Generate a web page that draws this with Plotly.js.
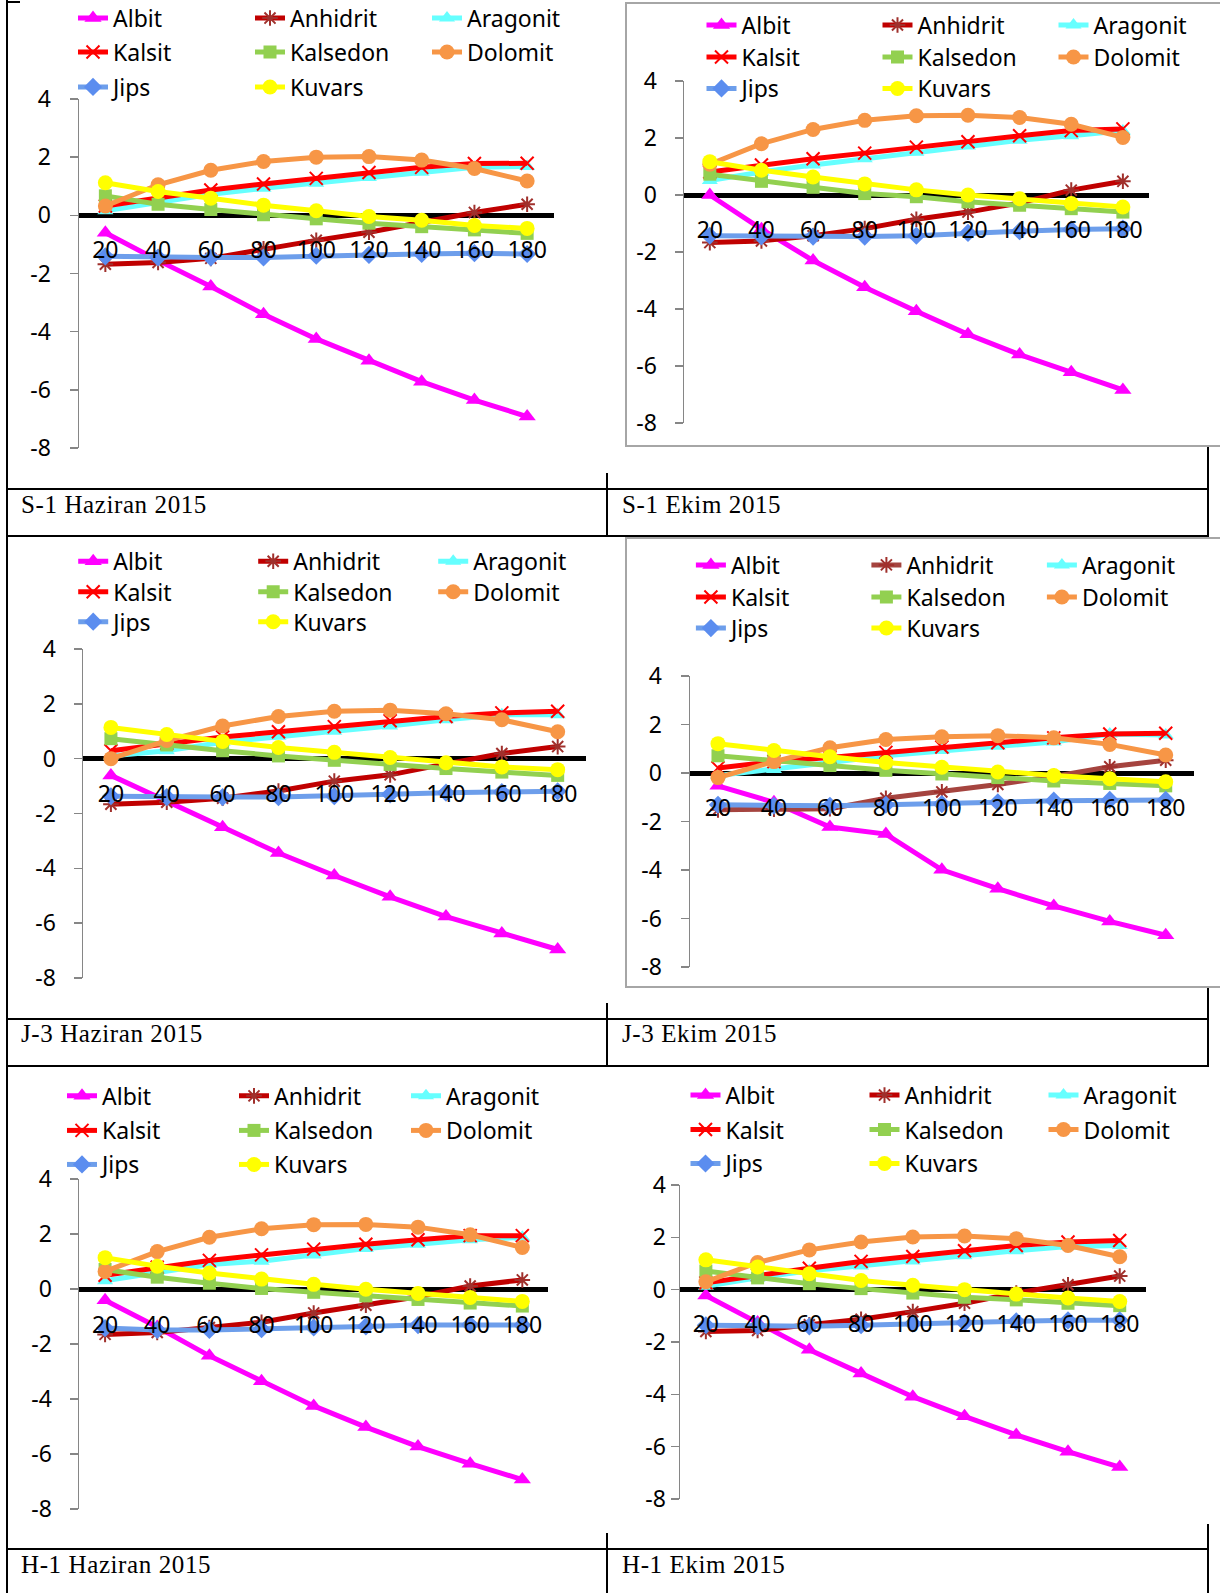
<!DOCTYPE html>
<html>
<head>
<meta charset="utf-8">
<script src="https://cdn.plot.ly/plotly-3.0.1.min.js"></script>
<style>
html,body{margin:0;padding:0;background:#fff;}
body{width:1220px;height:1593px;overflow:hidden;position:relative;}
.ln{position:absolute;background:#000;}
.cap{position:absolute;font-family:'Liberation Serif','Times New Roman',serif;font-size:25px;line-height:25px;letter-spacing:0.6px;color:#000;white-space:nowrap;z-index:5;}
.plot{position:absolute;}
.frame{position:absolute;border:2px solid #A6A6A6;border-right:none;background:#fff;overflow:hidden;z-index:3;}
</style>
</head>
<body>
<div id="stage"></div>
<script>
// ---------------- DATA ----------------
const temperatures = [20, 40, 60, 80, 100, 120, 140, 160, 180];
const minerals = ['Albit', 'Anhidrit', 'Aragonit', 'Kalsit', 'Kalsedon', 'Dolomit', 'Jips', 'Kuvars'];
const yTicks = [-8, -6, -4, -2, 0, 2, 4];
const yTickText = ['-8', '-6', '-4', '-2', '0', '2', '4'];
const captions = ['S-1 Haziran 2015', 'S-1 Ekim 2015', 'J-3 Haziran 2015', 'J-3 Ekim 2015', 'H-1 Haziran 2015', 'H-1 Ekim 2015'];

// rows follow the order of `minerals`
const s1Haziran = [
  [-0.6, -1.55, -2.45, -3.4, -4.25, -5.0, -5.72, -6.35, -6.92],
  [-1.68, -1.62, -1.48, -1.15, -0.86, -0.58, -0.22, 0.1, 0.38],
  [0.16, 0.44, 0.72, 0.93, 1.1, 1.3, 1.48, 1.65, 1.68],
  [0.32, 0.58, 0.87, 1.08, 1.27, 1.47, 1.65, 1.78, 1.79],
  [0.67, 0.38, 0.2, 0.02, -0.12, -0.27, -0.39, -0.5, -0.62],
  [0.32, 1.05, 1.55, 1.85, 2.0, 2.02, 1.9, 1.61, 1.18],
  [-1.41, -1.45, -1.45, -1.45, -1.39, -1.36, -1.33, -1.3, -1.33],
  [1.12, 0.82, 0.59, 0.35, 0.16, -0.04, -0.17, -0.35, -0.45]
];
const s1Ekim = [
  [0.0, -1.2, -2.3, -3.24, -4.08, -4.89, -5.6, -6.22, -6.84],
  [-1.67, -1.61, -1.43, -1.18, -0.85, -0.6, -0.28, 0.17, 0.48],
  [0.51, 0.81, 1.05, 1.27, 1.5, 1.72, 1.92, 2.08, 2.25],
  [0.81, 1.05, 1.27, 1.47, 1.68, 1.87, 2.08, 2.26, 2.32],
  [0.73, 0.48, 0.27, 0.05, -0.06, -0.24, -0.36, -0.48, -0.6],
  [1.08, 1.8, 2.3, 2.62, 2.78, 2.8, 2.72, 2.48, 2.02],
  [-1.43, -1.45, -1.46, -1.46, -1.43, -1.33, -1.27, -1.21, -1.18],
  [1.17, 0.87, 0.63, 0.39, 0.18, 0.0, -0.13, -0.3, -0.42]
];
const j3Haziran = [
  [-0.61, -1.55, -2.5, -3.44, -4.26, -5.04, -5.76, -6.38, -6.96],
  [-1.66, -1.59, -1.44, -1.18, -0.82, -0.59, -0.19, 0.19, 0.44],
  [0.1, 0.29, 0.6, 0.82, 1.0, 1.19, 1.42, 1.6, 1.6],
  [0.29, 0.56, 0.79, 0.98, 1.17, 1.38, 1.54, 1.67, 1.73],
  [0.73, 0.5, 0.29, 0.1, -0.06, -0.21, -0.36, -0.49, -0.61],
  [0.0, 0.66, 1.19, 1.54, 1.73, 1.77, 1.64, 1.42, 0.98],
  [-1.37, -1.4, -1.4, -1.4, -1.37, -1.3, -1.24, -1.22, -1.19],
  [1.14, 0.88, 0.63, 0.41, 0.23, 0.04, -0.15, -0.3, -0.4]
];
const j3Ekim = [
  [-0.53, -1.21, -2.23, -2.52, -3.99, -4.77, -5.48, -6.12, -6.69],
  [-1.52, -1.49, -1.47, -1.04, -0.78, -0.47, -0.14, 0.26, 0.53],
  [-0.1, 0.14, 0.43, 0.71, 0.93, 1.1, 1.28, 1.61, 1.57],
  [0.21, 0.47, 0.64, 0.85, 1.07, 1.25, 1.45, 1.61, 1.64],
  [0.71, 0.53, 0.31, 0.11, -0.04, -0.19, -0.33, -0.43, -0.53],
  [-0.19, 0.47, 1.04, 1.38, 1.49, 1.54, 1.45, 1.18, 0.74],
  [-1.31, -1.35, -1.35, -1.31, -1.28, -1.21, -1.14, -1.11, -1.11],
  [1.21, 0.93, 0.67, 0.43, 0.24, 0.04, -0.1, -0.24, -0.36]
];
const h1Haziran = [
  [-0.41, -1.38, -2.43, -3.35, -4.25, -5.02, -5.73, -6.35, -6.93],
  [-1.65, -1.58, -1.4, -1.21, -0.87, -0.59, -0.28, 0.11, 0.33],
  [0.3, 0.58, 0.89, 1.01, 1.24, 1.47, 1.63, 1.79, 1.88],
  [0.5, 0.79, 1.04, 1.24, 1.45, 1.63, 1.79, 1.94, 1.94],
  [0.71, 0.43, 0.21, 0.02, -0.12, -0.25, -0.38, -0.51, -0.62],
  [0.64, 1.36, 1.88, 2.19, 2.34, 2.35, 2.25, 1.97, 1.51],
  [-1.42, -1.49, -1.49, -1.46, -1.4, -1.36, -1.31, -1.3, -1.31],
  [1.14, 0.83, 0.58, 0.36, 0.17, -0.01, -0.16, -0.31, -0.45]
];
const h1Ekim = [
  [-0.22, -1.25, -2.3, -3.2, -4.09, -4.84, -5.55, -6.19, -6.78],
  [-1.6, -1.56, -1.34, -1.13, -0.84, -0.52, -0.13, 0.19, 0.52],
  [0.13, 0.45, 0.72, 0.9, 1.1, 1.3, 1.49, 1.65, 1.69],
  [0.26, 0.56, 0.82, 1.08, 1.27, 1.49, 1.69, 1.82, 1.88],
  [0.71, 0.45, 0.23, 0.04, -0.13, -0.29, -0.39, -0.52, -0.61],
  [0.3, 1.04, 1.52, 1.82, 2.01, 2.05, 1.95, 1.69, 1.26],
  [-1.36, -1.39, -1.4, -1.36, -1.3, -1.26, -1.21, -1.17, -1.17],
  [1.14, 0.87, 0.61, 0.35, 0.17, 0.0, -0.17, -0.32, -0.45]
];

// ---------------- STYLE / LAYOUT ----------------
const seriesStyles = [
  {line: '#FF00FF', marker: '#FF00FF', symbol: 'triangle-up', size: 15, mlw: 0},
  {line: '#C00000', marker: '#A0302C', symbol: 'asterisk-open', size: 13, mlw: 2},
  {line: '#66FFFF', marker: '#66FFFF', symbol: 'triangle-up', size: 14, mlw: 0},
  {line: '#FF0000', marker: '#FF0000', symbol: 'x-thin-open', size: 13, mlw: 2},
  {line: '#92D050', marker: '#92D050', symbol: 'square', size: 13, mlw: 0},
  {line: '#F79646', marker: '#F79646', symbol: 'circle', size: 15, mlw: 0},
  {line: '#6D9EEB', marker: '#5B8DEF', symbol: 'diamond', size: 14, mlw: 0},
  {line: '#FFFF00', marker: '#FFFF00', symbol: 'circle', size: 15, mlw: 0}
];
const legendOf = ['legend', 'legend', 'legend', 'legend2', 'legend2', 'legend2', 'legend3', 'legend3'];

const panels = [
  {values: s1Haziran, L: 8, T: 3, H: 470, px0: 79, px1: 553.5, py0: 98.5, py1: 448, labelY: 248.6,
   rows: [17.5, 51.5, 86.5], textX: 113, spacing: 177, tickGap: 26, frame: null, z: 1, anh: '#C00000'},
  {values: s1Ekim, L: 627, T: 4, H: 441, px0: 684, px1: 1148.7, py0: 81, py1: 423, labelY: 229,
   rows: [25, 57, 88.5], textX: 741.5, spacing: 176, tickGap: 25, frame: {left: 625, top: 2}, z: 3, anh: '#C00000'},
  {values: j3Haziran, L: 8, T: 538, H: 465, px0: 82.8, px1: 585.4, py0: 648.8, py1: 978.3, labelY: 793.4,
   rows: [561, 591.5, 621.5], textX: 113, spacing: 180, tickGap: 25, frame: null, z: 1, anh: '#C00000'},
  {values: j3Ekim, L: 627, T: 539, H: 447, px0: 689.7, px1: 1193.4, py0: 676.3, py1: 966.6, labelY: 807.2,
   rows: [565.5, 597.5, 628.5], textX: 730.6, spacing: 175.5, tickGap: 26, frame: {left: 625, top: 537}, z: 3, anh: '#A5443F'},
  {values: h1Haziran, L: 8, T: 1068, H: 465, px0: 79, px1: 548.4, py0: 1179, py1: 1508.7, labelY: 1323.4,
   rows: [1096, 1130.5, 1164.5], textX: 102, spacing: 172, tickGap: 25, frame: null, z: 1, anh: '#C00000'},
  {values: h1Ekim, L: 627, T: 1068, H: 456, px0: 680, px1: 1145.6, py0: 1185, py1: 1499.5, labelY: 1323.4,
   rows: [1095, 1129.5, 1163.5], textX: 725.5, spacing: 179, tickGap: 24.5, frame: null, z: 3, anh: '#C00000'}
];

const captionPos = [[21, 492], [622, 492], [21, 1021], [622, 1021], [21, 1552], [622, 1552]];

// table rules [left, top, width, height]
const rules = [
  [6, 0, 2, 1593], [6, 1, 14, 2],
  [6, 488, 1203, 2], [6, 535, 1203, 2],
  [6, 1018, 1203, 2], [6, 1065, 1203, 2],
  [6, 1548, 1203, 2],
  [606, 473, 2, 64], [606, 1003, 2, 64], [606, 1533, 2, 60],
  [1207, 447, 2, 90], [1207, 988, 2, 79], [1207, 1524, 2, 69]
];

const stage = document.getElementById('stage');
rules.forEach(r => {
  const d = document.createElement('div');
  d.className = 'ln';
  d.style.cssText = `left:${r[0]}px;top:${r[1]}px;width:${r[2]}px;height:${r[3]}px;z-index:4;`;
  stage.appendChild(d);
});
captions.forEach((c, i) => {
  const d = document.createElement('div');
  d.className = 'cap';
  d.textContent = c;
  d.style.left = captionPos[i][0] + 'px';
  d.style.top = captionPos[i][1] + 'px';
  stage.appendChild(d);
});

const GSW = 640;
const FONT = "'Noto Sans', 'DejaVu Sans', sans-serif";

panels.forEach((p, idx) => {
  const l = p.px0 - p.L;
  const t = p.py0 - p.T;
  const b = p.T + p.H - p.py1;
  const W = l + GSW;
  const plotH = p.py1 - p.py0;
  const plotW = p.px1 - p.px0;
  const axisPos = (p.py1 - (p.labelY - 15)) / plotH;
  const lx = (p.textX - 40 - p.px0) / GSW;

  const div = document.createElement('div');
  div.className = 'plot';
  if (p.frame) {
    const fr = document.createElement('div');
    fr.className = 'frame';
    fr.style.left = p.frame.left + 'px';
    fr.style.top = p.frame.top + 'px';
    fr.style.width = (1220 - p.frame.left - 2) + 'px';
    fr.style.height = p.H + 'px';
    div.style.left = '0px';
    div.style.top = '0px';
    fr.appendChild(div);
    stage.appendChild(fr);
  } else {
    div.style.left = p.L + 'px';
    div.style.top = p.T + 'px';
    div.style.zIndex = p.z;
    stage.appendChild(div);
  }

  const traces = minerals.map((name, i) => {
    const s = seriesStyles[i];
    const lineColor = (i === 1) ? p.anh : s.line;
    return {
      type: 'scatter', mode: 'lines+markers', name: name,
      x: temperatures, y: p.values[i],
      legend: legendOf[i],
      line: {color: lineColor, width: 5},
      marker: {color: s.marker, symbol: s.symbol, size: s.size, line: {width: s.mlw, color: s.marker}},
      cliponaxis: false, hoverinfo: 'skip'
    };
  });

  const mkLegend = (row) => ({
    orientation: 'h', x: lx, xanchor: 'left', xref: 'paper',
    y: (p.py1 - p.rows[row]) / plotH, yanchor: 'middle', yref: 'paper',
    entrywidth: p.spacing - 45, entrywidthmode: 'pixels',
    bgcolor: 'rgba(0,0,0,0)', borderwidth: 0,
    font: {family: FONT, size: 23, color: '#000'},
    traceorder: 'normal', itemclick: false, itemdoubleclick: false
  });

  const layout = {
    width: W, height: p.H,
    margin: {l: l, r: 0, t: t, b: b, pad: 0, autoexpand: false},
    paper_bgcolor: '#ffffff', plot_bgcolor: 'rgba(0,0,0,0)',
    font: {family: FONT, size: 23, color: '#000'},
    showlegend: true, hovermode: false,
    xaxis: {
      domain: [0, plotW / GSW], range: [10, 190], type: 'linear',
      tickmode: 'array', tickvals: temperatures, ticktext: temperatures.map(String),
      showgrid: false, zeroline: false, showline: false, ticks: '',
      anchor: 'free', position: axisPos, automargin: false, fixedrange: true,
      tickfont: {family: FONT, size: 23, color: '#000'}
    },
    yaxis: {
      domain: [0, 1], range: [-8, 4], tickmode: 'array', tickvals: yTicks, ticktext: yTickText,
      showgrid: false, zeroline: true, zerolinecolor: '#000000', zerolinewidth: 5,
      showline: true, linecolor: '#868686', linewidth: 1.5,
      ticks: 'outside', ticklen: 8, tickcolor: '#868686', tickwidth: 1.5,
      ticklabelstandoff: p.tickGap - 12, automargin: false, fixedrange: true,
      tickfont: {family: FONT, size: 23, color: '#000'}
    },
    legend: mkLegend(0), legend2: mkLegend(1), legend3: mkLegend(2)
  };
  Plotly.newPlot(div, traces, layout, {staticPlot: true, displayModeBar: false});
});
</script>
</body>
</html>
